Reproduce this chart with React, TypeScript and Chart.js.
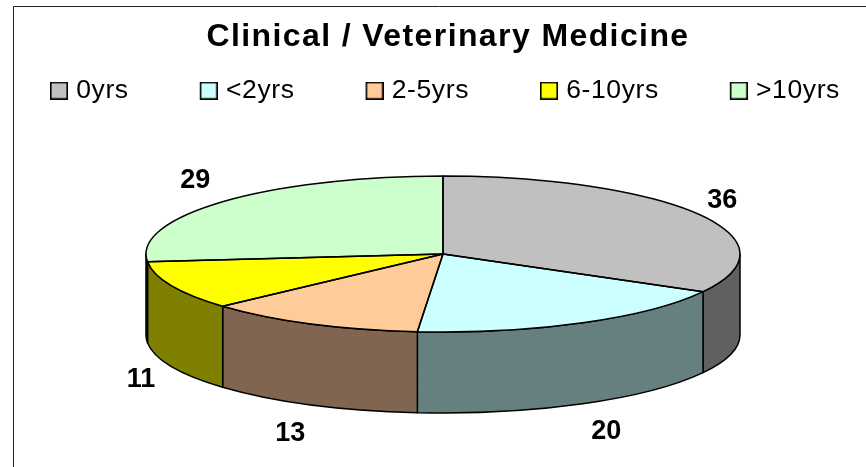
import React, { useEffect, useRef } from "react";
import { Chart, registerables } from "chart.js";

Chart.register(...registerables);

const titleText = "Clinical / Veterinary Medicine";
const categories = ["0yrs", "<2yrs", "2-5yrs", "6-10yrs", ">10yrs"];
const values = [36, 20, 13, 11, 29];
const topColors = ["#C0C0C0", "#CCFFFF", "#FFCC99", "#FFFF00", "#CCFFCC"];
const wallColors = ["#606060", "#668080", "#806650", "#808000", "#668066"];
const labelNudges: [number, number][] = [[23.5, -13.5], [23.5, 27.5], [-20.5, 29], [-30.5, 12.5], [-27.5, -21.5]];

const FONT = "'Liberation Sans', Arial, sans-serif";
const CX = 443, CY = 254, RX = 297, RY = 78, DEPTH = 81;
const LEGEND_SPACING = "0.6px";
const TITLE_SPACING = "1.4px";

function swatch(color: string) {
  const c = document.createElement("canvas");
  c.width = 94;
  c.height = 18;
  const g = c.getContext("2d")!;
  g.fillStyle = color;
  g.fillRect(77, 1, 16, 16);
  g.strokeStyle = "#000";
  g.lineWidth = 1.6;
  g.strokeRect(76.8, 0.8, 16.4, 16.4);
  return c;
}

const pie3d = {
  id: "pie3d",
  beforeLayout(chart: any) {
    (chart.ctx as any).letterSpacing = LEGEND_SPACING;
  },
  afterLayout(chart: any) {
    const tb = chart.titleBlock;
    if (tb && !tb.__wrapped) {
      tb.__wrapped = true;
      const orig = tb.draw;
      tb.draw = function () {
        const ctx = chart.ctx as any;
        ctx.save();
        ctx.letterSpacing = TITLE_SPACING;
        ctx.translate(25.5, 0);
        orig.call(tb);
        ctx.restore();
      };
    }
  },
  beforeDraw(chart: any) {
    const { ctx, width, height } = chart;
    (ctx as any).letterSpacing = LEGEND_SPACING;
    ctx.save();
    ctx.fillStyle = "#fff";
    ctx.fillRect(0, 0, width, height);
    ctx.strokeStyle = "#222";
    ctx.lineWidth = 1;
    ctx.beginPath();
    ctx.moveTo(13.5, height);
    ctx.lineTo(13.5, 6.5);
    ctx.lineTo(width, 6.5);
    ctx.stroke();
    ctx.restore();
  },
  beforeDatasetsDraw(chart: any) {
    const { ctx } = chart;
    const arcs = chart.getDatasetMeta(0).data;
    ctx.save();
    ctx.lineWidth = 1.5;
    ctx.strokeStyle = "#000";
    ctx.lineJoin = "round";
    arcs.forEach((a: any, i: number) => {
      const s = Math.max(a.startAngle, 0);
      const e = Math.min(a.endAngle, Math.PI);
      if (e <= s) return;
      ctx.beginPath();
      ctx.ellipse(CX, CY, RX, RY, 0, s, e);
      ctx.ellipse(CX, CY + DEPTH, RX, RY, 0, e, s, true);
      ctx.closePath();
      ctx.fillStyle = wallColors[i];
      ctx.fill();
      ctx.stroke();
    });
    ctx.restore();
    const a0 = arcs[0];
    const r = a0.outerRadius;
    ctx.save();
    ctx.translate(CX, CY);
    ctx.scale(RX / r, RY / r);
    ctx.translate(-a0.x, -a0.y);
  },
  afterDatasetsDraw(chart: any) {
    const { ctx } = chart;
    ctx.restore();
    const arcs = chart.getDatasetMeta(0).data;
    ctx.save();
    ctx.lineWidth = 1.5;
    ctx.strokeStyle = "#000";
    ctx.lineJoin = "round";
    arcs.forEach((a: any) => {
      ctx.beginPath();
      ctx.moveTo(CX, CY);
      ctx.ellipse(CX, CY, RX, RY, 0, a.startAngle, a.endAngle);
      ctx.closePath();
      ctx.stroke();
    });
    ctx.fillStyle = "#000";
    ctx.font = `bold 27px ${FONT}`;
    (ctx as any).letterSpacing = "0px";
    ctx.textAlign = "center";
    ctx.textBaseline = "middle";
    arcs.forEach((a: any, i: number) => {
      const mid = (a.startAngle + a.endAngle) / 2;
      const lower = Math.sin(mid) > 0 ? DEPTH : 0;
      const x = CX + RX * Math.cos(mid) + labelNudges[i][0];
      const y = CY + RY * Math.sin(mid) + lower + labelNudges[i][1];
      ctx.fillText(String(values[i]), x, y);
    });
    ctx.restore();
  },
};

export default function App() {
  const ref = useRef<HTMLCanvasElement>(null);
  useEffect(() => {
    const chart = new Chart(ref.current!, {
      type: "pie",
      data: {
        labels: categories,
        datasets: [
          {
            data: values,
            backgroundColor: topColors,
            borderWidth: 0,
            clip: false,
          } as any,
        ],
      },
      options: {
        responsive: false,
        animation: false,
        events: [],
        layout: { padding: { left: -21 } },
        plugins: {
          tooltip: { enabled: false },
          title: {
            display: true,
            text: titleText,
            color: "#000",
            font: { family: FONT, size: 32, weight: "bold" },
            padding: { top: 18, bottom: 21 },
          } as any,
          legend: {
            display: true,
            position: "top",
            align: "start",
            labels: {
              color: "#000",
              font: { family: FONT, size: 26.5 },
              usePointStyle: true,
              pointStyleWidth: 84,
              padding: 0,
              generateLabels: () =>
                categories.map((text, i) => ({
                  text,
                  fontColor: "#000",
                  pointStyle: swatch(topColors[i]),
                  hidden: false,
                  index: i,
                  lineWidth: 0,
                })),
            },
          } as any,
        },
      },
      plugins: [pie3d],
    } as any);
    return () => chart.destroy();
  }, []);
  return (
    <canvas
      ref={ref}
      width={866}
      height={467}
      style={{ position: "fixed", left: 0, top: 0, display: "block" }}
    />
  );
}
